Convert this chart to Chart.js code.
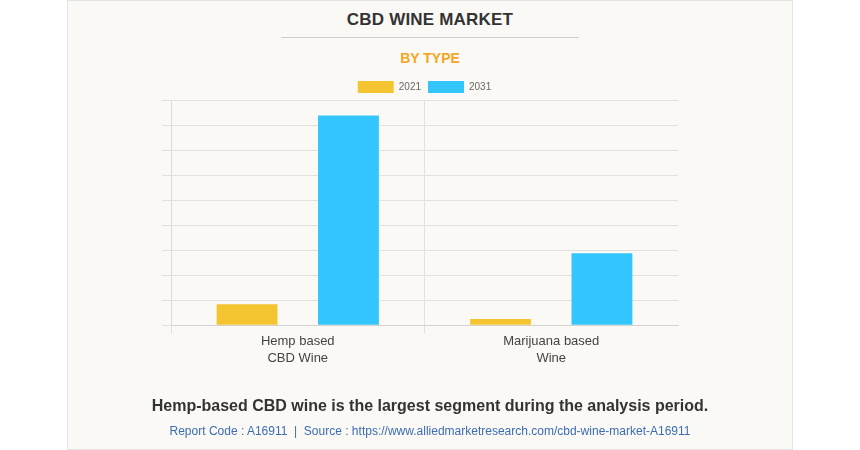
<!DOCTYPE html>
<html>
<head>
<meta charset="utf-8">
<script src="https://cdn.jsdelivr.net/npm/chart.js@4"></script>
<style>
  body { margin: 0; width: 860px; height: 450px; background: #ffffff; font-family: "Liberation Sans", Arial, sans-serif; position: relative; overflow: hidden; }
  #card { position: absolute; left: 67px; top: 0; width: 724px; height: 448px; background: #faf9f5; border: 1px solid #e4e4e2; }
  #title { position: absolute; left: 0; width: 860px; top: 10px; text-align: center; font-weight: bold; font-size: 17px; letter-spacing: 0.2px; color: #333333; }
  #rule { position: absolute; left: 281px; width: 298px; top: 37px; height: 1px; background: #cfcfcf; }
  #subtitle { position: absolute; left: 0; width: 860px; top: 50px; text-align: center; font-weight: bold; font-size: 14px; color: #f5a623; }
  #note { position: absolute; left: 0; width: 860px; top: 397px; text-align: center; font-weight: bold; font-size: 16px; color: #333333; }
  #source { position: absolute; left: 0; width: 860px; top: 424px; text-align: center; font-size: 12px; color: #3d6cb3; }
  #wrap { position: absolute; left: 0; top: 0; width: 860px; height: 450px; }
</style>
</head>
<body>
<div id="card"></div>
<div id="title">CBD WINE MARKET</div>
<div id="rule"></div>
<div id="subtitle">BY TYPE</div>
<div id="wrap"><canvas id="chart" width="860" height="450"></canvas></div>
<div id="note">Hemp-based CBD wine is the largest segment during the analysis period.</div>
<div id="source">Report Code : A16911&nbsp; | &nbsp;Source : https://www.alliedmarketresearch.com/cbd-wine-market-A16911</div>

<script>
// chart data
const categories = [["Hemp based", "CBD Wine"], ["Marijuana based", "Wine"]];
const seriesNames = ["2021", "2031"];
const values2021 = [0.84, 0.25];
const values2031 = [8.38, 2.88];
const barColors = ["#f5c531", "#33c6fe"];

const gridColor = "#e2e1dd";

const ctx = document.getElementById("chart").getContext("2d");

// pull the plot a bit closer to the legend
const legendGap = {
  id: "legendGap",
  beforeInit(chart) {
    const fit = chart.legend.fit;
    chart.legend.fit = function () {
      fit.call(this);
      this.height -= 3;
    };
  },
};

new Chart(ctx, {
  type: "bar",
  data: {
    labels: categories,
    datasets: [
      {
        label: seriesNames[0],
        data: values2021,
        backgroundColor: barColors[0],
        categoryPercentage: 0.8,
        barPercentage: 0.6,
      },
      {
        label: seriesNames[1],
        data: values2031,
        backgroundColor: barColors[1],
        categoryPercentage: 0.8,
        barPercentage: 0.6,
      },
    ],
  },
  plugins: [legendGap],
  options: {
    responsive: false,
    animation: false,
    layout: {
      padding: { left: 162, right: 182, top: 74, bottom: 83 },
    },
    plugins: {
      legend: {
        display: true,
        position: "top",
        fullSize: false,
        labels: {
          boxWidth: 36,
          boxHeight: 12,
          padding: 7,
          color: "#666666",
          font: { family: "Liberation Sans", size: 10 },
        },
      },
      tooltip: { enabled: false },
    },
    scales: {
      x: {
        grid: {
          offset: true,
          // no line on the right edge
          color: (c) => (c.type === "tick" ? gridColor : "rgba(0,0,0,0)"),
          tickLength: 8,
        },
        border: { color: "#d3d2ce" },
        ticks: {
          color: "#444444",
          font: { family: "Liberation Sans", size: 13, lineHeight: 1.3 },
          padding: 0,
        },
      },
      y: {
        min: 0,
        max: 9,
        ticks: { display: false, stepSize: 1 },
        grid: { color: gridColor, tickLength: 9 },
        border: { color: "#dcdbd7" },
      },
    },
  },
});
</script>
</body>
</html>
